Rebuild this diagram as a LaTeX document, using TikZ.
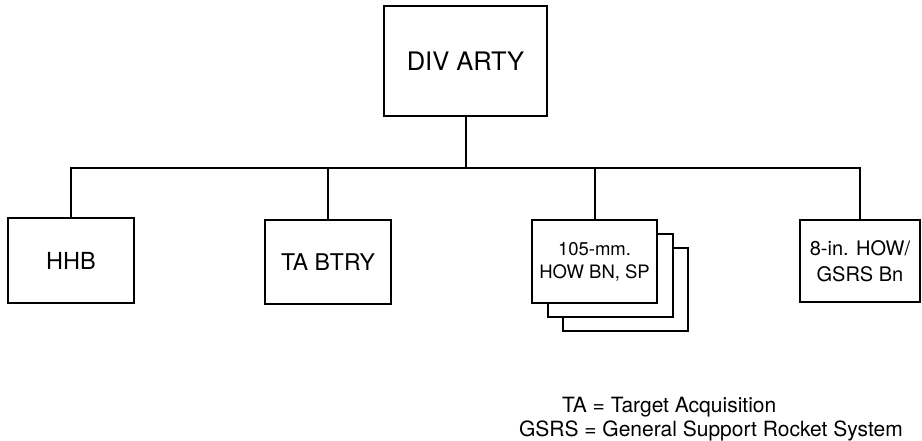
\documentclass[tikz,border=0pt]{standalone}
\usepackage{fontspec}
\setmainfont{TeX Gyre Heros}
\usepackage{tikz}

\begin{document}
\begin{tikzpicture}
[x=1pt,y=-1pt,line width=2pt]
\tikzstyle{unit box}=[rectangle,draw,fill=white,inner sep=0,align=center]
\tikzstyle{small unit}=[unit box,minimum width=126,minimum height=84]
\tikzstyle{legend text}=[anchor=base west,inner sep=0,font=\fontsize{21}{24}\selectfont]
\useasboundingbox (0,0) rectangle (922,441);

\node(div)[unit box,minimum width=163,minimum height=110,font=\fontsize{25.5}{30}\selectfont] at (465.5,61){DIV ARTY};
\coordinate(bus) at (0,168);

\node(hhb)[small unit,minimum height=85,font=\fontsize{23.5}{28}\selectfont] at (71,260.5){HHB};
\node(ta)[small unit,font=\fontsize{23}{28}\selectfont] at (328,262){TA BTRY};
\node(how3)[small unit,minimum width=125,minimum height=83] at (625.5,289.5){};
\node(how2)[small unit,minimum width=125,minimum height=83] at (610,275.5){};
\node(how)[small unit,minimum width=125,minimum height=83,font=\fontsize{18.5}{23}\selectfont] at (594.5,261.5){105-mm.\\HOW BN, SP};
\node(gsrs)[small unit,minimum width=120,minimum height=82,font=\fontsize{20}{26}\selectfont] at (860,261){8-in. HOW/\\GSRS Bn};

\draw(div.south)--(div.south |- bus);
\draw(hhb.north)--(hhb.north |- bus)--(gsrs.north |- bus)--(gsrs.north);
\draw(ta.north)--(ta.north |- bus);
\draw(how.north)--(how.north |- bus);

\node(leg1)[legend text] at (561,412){TA = Target Acquisition};
\node(leg2)[legend text] at (518,436){GSRS = General Support Rocket System};
\end{tikzpicture}
\end{document}
